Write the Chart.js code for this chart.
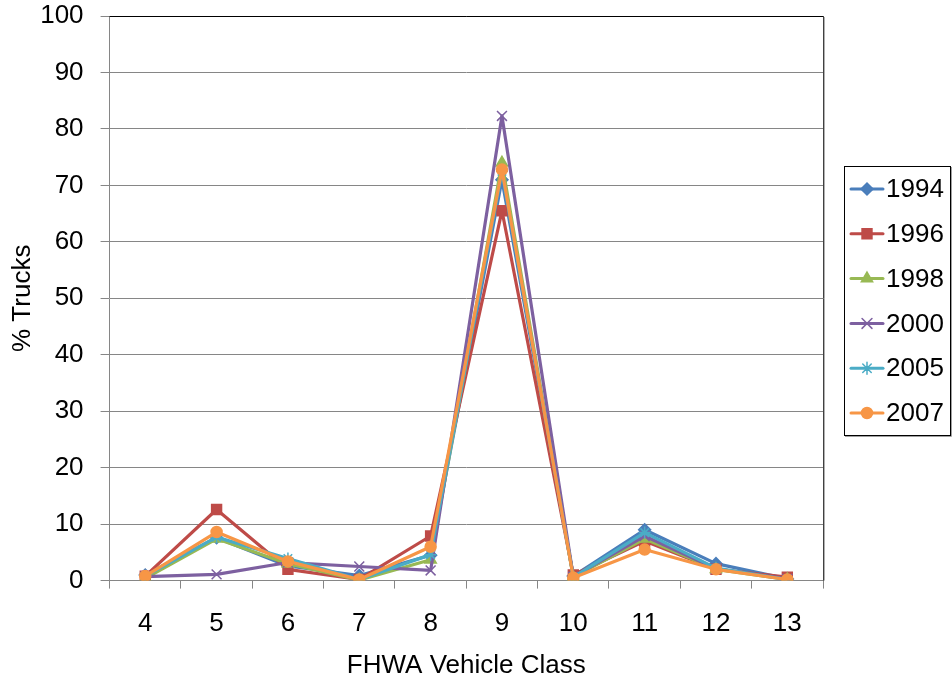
<!DOCTYPE html>
<html><head><meta charset="utf-8">
<script src="https://cdn.jsdelivr.net/npm/chart.js@4"></script>
<style>html,body{margin:0;padding:0;background:#fff}#wrap{width:952px;height:684px;position:relative}</style>
</head><body><div id="wrap"><canvas id="c" width="952" height="684"></canvas></div>
<script>
const categories = ['4','5','6','7','8','9','10','11','12','13'];
const seriesNames = ['1994','1996','1998','2000','2005','2007'];
const s1994 = [1.0, 7.6, 2.6, 0.9, 4.5, 71.0, 0.8, 9.0, 3.0, 0.3];
const s1996 = [0.8, 12.6, 2.0, 0.2, 7.9, 65.5, 1.0, 7.0, 2.0, 0.6];
const s1998 = [0.4, 7.4, 3.0, 0.1, 3.7, 74.0, 0.6, 7.4, 2.0, 0.2];
const s2000 = [0.7, 1.1, 3.2, 2.5, 1.8, 82.3, 0.7, 7.9, 2.1, 0.3];
const s2005 = [0.8, 7.7, 3.9, 0.2, 4.6, 72.5, 0.6, 8.5, 2.2, 0.2];
const s2007 = [0.8, 8.6, 3.4, 0.2, 6.0, 72.8, 0.5, 5.5, 2.0, 0.2];
const yTicks = [0,10,20,30,40,50,60,70,80,90,100];

const values = [s1994, s1996, s1998, s2000, s2005, s2007];
const colors = ['#4A7EBB','#BE4B48','#98B954','#7D60A0','#4BACC6','#F79646'];
const markers = ['rectRot','rect','triangle','crossRot','star','circle'];
const radii = [6,7,6.5,7,6,5.5];

const FONT = "'Liberation Sans', Arial, sans-serif";
const FS = 26;
Chart.defaults.font.family = FONT;
Chart.defaults.color = '#000';

const framePlugin = {
  id: 'frame',
  afterDraw(chart){
    const ctx = chart.ctx, a = chart.chartArea;
    ctx.save();
    ctx.lineWidth = 1;
    ctx.strokeStyle = '#000';
    ctx.beginPath();
    ctx.moveTo(a.left, Math.round(a.top)+0.5); ctx.lineTo(a.right, Math.round(a.top)+0.5);
    ctx.stroke();
    ctx.strokeStyle = '#404040';
    ctx.beginPath();
    ctx.moveTo(Math.round(a.right)+0.5, a.top); ctx.lineTo(Math.round(a.right)+0.5, a.bottom);
    ctx.stroke();
    ctx.strokeStyle = '#b0b0b0';
    ctx.beginPath();
    ctx.moveTo(Math.round(a.right)+1.5, a.top+1); ctx.lineTo(Math.round(a.right)+1.5, a.bottom);
    ctx.stroke();

    const L = {left: 844, top: 166, right: 950, bottom: 435, firstY: 189, step: 44.8, lineX0: 851, lineX1: 883, textX: 886};
    ctx.strokeStyle = '#000';
    ctx.strokeRect(L.left+0.5, L.top+0.5, L.right-L.left, L.bottom-L.top);
    ctx.strokeStyle = '#a0a0a0';
    ctx.beginPath();
    ctx.moveTo(L.right+1.5, L.top+1); ctx.lineTo(L.right+1.5, L.bottom+1.5); ctx.lineTo(L.left+1, L.bottom+1.5);
    ctx.stroke();
    chart.data.datasets.forEach((d,i)=>{
      const y = L.firstY + i*L.step;
      ctx.strokeStyle = d.borderColor; ctx.lineWidth = 3; ctx.lineCap = 'round';
      ctx.beginPath(); ctx.moveTo(L.lineX0, y); ctx.lineTo(L.lineX1, y); ctx.stroke();
      ctx.fillStyle = d.pointBackgroundColor; ctx.strokeStyle = d.pointBorderColor;
      ctx.lineWidth = d.pointBorderWidth;
      Chart.helpers.drawPoint(ctx, {pointStyle: d.pointStyle, radius: d.pointRadius, borderWidth: d.pointBorderWidth, rotation: 0}, (L.lineX0+L.lineX1)/2, y);
      ctx.fillStyle = '#000';
      ctx.font = FS + 'px ' + FONT;
      ctx.textAlign = 'left'; ctx.textBaseline = 'middle';
      ctx.fillText(d.label, L.textX, y + 1);
    });
    ctx.restore();
  }
};

const datasets = seriesNames.map((n,i)=>({
  label: n,
  data: values[i],
  borderColor: colors[i],
  backgroundColor: colors[i],
  pointBackgroundColor: colors[i],
  pointBorderColor: colors[i],
  pointStyle: markers[i],
  pointRadius: radii[i],
  pointBorderWidth: 1.5,
  borderWidth: 3.2,
  borderJoinStyle: 'round',
  tension: 0,
  order: seriesNames.length - i
}));

new Chart(document.getElementById('c'), {
  type: 'line',
  data: { labels: categories, datasets },
  options: {
    responsive: false,
    animation: false,
    devicePixelRatio: 1,
    layout: { padding: { left: 0, top: 0, right: 129, bottom: 0 } },
    plugins: {
      tooltip: { enabled: false },
      legend: { display: false }
    },
    scales: {
      x: {
        type: 'category',
        offset: true,
        grid: { display: true, offset: true, drawOnChartArea: false, drawTicks: true, tickLength: 8, color: '#868686' },
        border: { color: '#868686' },
        ticks: { font: { size: FS }, color: '#000', padding: 20, maxRotation: 0 },
        title: { display: true, text: 'FHWA Vehicle Class', font: { size: FS }, color: '#000', padding: { top: -10, bottom: 3 } }
      },
      y: {
        min: 0, max: 100,
        afterBuildTicks(scale){ scale.ticks = yTicks.map(v=>({value:v})); },
        afterFit(scale){ scale.paddingTop = 16; },
        grid: { color: '#868686', drawTicks: true, tickLength: 9 },
        border: { color: '#868686' },
        ticks: { font: { size: FS }, color: '#000', padding: 17 },
        title: { display: true, text: '% Trucks', font: { size: FS }, color: '#000', padding: { top: 7, bottom: -15 } }
      }
    }
  },
  plugins: [framePlugin]
});
</script></body></html>
